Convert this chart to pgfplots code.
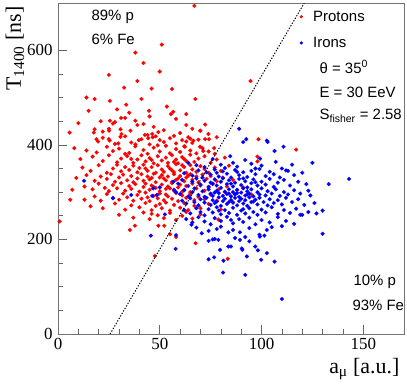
\documentclass[border=0pt]{standalone}
\usepackage{fontspec}
\setmainfont{Liberation Serif}
\newfontfamily\sans{Liberation Sans}
\usepackage{pgfplots}
\pgfplotsset{compat=1.18}
\usepackage{pgfplotstable}

% proton events (a_mu, T1400)
\pgfplotstableread{
a T
67 694
51 612
38 595
42 573
50 555
25 548
39 535
32.5 521
46 519
56 518
67.5 497
94.6 535
14 500
18 497
25.5 493
41 497
33.5 485
53.5 481
15 472
44.7 472
56.6 470
55.5 465
10 446
21 450
25.5 451
28 448
27 445
31 457
33 457
38 451
39 442
42 444
35.6 430
30.7 433
25 434
25.1 430
17.6 426
18 433
5.7 426
18.9 412
19.7 407
25 412
25.4 409
29.6 403
30.7 417
31.2 423
39.7 410
42.7 421
44 421
44.3 414
46.5 416
49.3 427
50 410
46.3 423
72.3 443
69.8 430
73.9 423
74.2 412
78 416
63 407
65 413
66.5 409
72.3 412
98.5 412
117 390
76.7 393
69.8 396
62.4 396
71.4 387
98 375
98 365
22 428
47 438
52 431
60 425
63 442
66 434
70 430
58 455
45 460
35 468
63 465
29 475
22 415
28 402
33 418
36 405
41 412
45 401
48 418
52 406
55 414
58 403
61 410
64 416
66 404
69 411
38 401
57 419
8 393
14 388
19 384
24 396
27 387
30 392
35 383
38 397
42 389
44 381
47 394
50 386
53 398
55 382
58 391
60 385
62 397
65 388
68 382
71 393
74 386
77 381
49 399
33 381
11 370
17 375
22 366
25 378
29 363
31 371
34 376
37 362
39 369
41 378
43 365
45 372
47 361
49 376
51 367
53 373
54 362
56 378
58 369
59 361
61 374
63 366
65 379
67 364
69 371
72 376
75 362
78 369
82 373
36 370
46 368
57 364
62 370
12 352
16 345
20 357
24 341
27 350
29 358
31 344
33 353
35 347
37 356
39 342
40 351
42 358
44 345
46 353
48 341
49 357
51 348
52 343
54 355
55 350
57 342
58 359
60 346
62 353
63 341
65 357
66 348
68 343
70 355
72 349
74 341
77 352
80 345
84 356
43 350
56 346
61 357
9 330
14 336
18 324
21 333
24 328
26 338
28 322
30 331
32 337
34 325
36 334
37 321
39 329
41 338
42 324
44 333
45 327
47 339
48 321
50 331
51 336
53 325
54 333
56 322
57 338
59 329
60 334
62 323
63 331
65 338
66 326
68 333
69 321
71 337
73 328
75 334
78 323
81 331
86 326
46 330
52 329
58 326
64 335
7 305
13 312
17 306
20 318
23 309
25 302
27 315
29 308
31 319
33 303
35 313
36 307
38 317
40 301
42 311
43 318
45 305
46 314
48 309
50 302
51 316
53 307
54 312
56 319
57 303
59 310
60 316
62 305
63 313
65 300
66 318
68 308
70 314
72 303
74 311
76 317
79 306
83 312
88 304
47 311
55 308
61 301
6 284
13 284
18 291
21 282
24 296
27 288
30 284
32 297
34 289
37 282
39 294
41 286
43 299
45 281
47 292
49 287
50 297
52 283
54 291
56 286
58 298
59 281
61 293
63 288
65 296
67 283
69 290
72 285
75 295
78 282
85 291
44 289
53 295
16 270
22 266
28 276
33 263
36 272
40 268
43 277
46 262
48 271
51 266
53 278
55 261
57 273
60 267
62 277
64 262
67 271
70 266
74 275
80 263
50 275
0.8 238
30 252
37 246
42 257
45 243
49 251
52 245
55 256
58 241
61 250
63 258
66 244
70 253
78.8 242
46 254
35.3 220
37.8 229
49.3 229
52.2 229
55 211
47.6 165
67.6 192
83.4 159
58 205
82 300
86 278
91 310
95 295
}\protons

% iron events (a_mu, T1400)
\pgfplotstableread{
a T
89 434
91 406
92.5 412
102.6 409
103 406
106.4 387
110.8 396
125 362
143 328
133 317
123 303
126 277
130 261
127 255
123 258
119 252
120 252
130 212
12.8 324
27 287
36 294
46.8 308
50 310
46.3 292
48.6 294
52.5 253
45.6 208
57.8 180
58 209
57 305
58 300
56.7 322
64 362
68 357
72 353
76 370
80 358
84.6 376
86 362
88 354
92 368
95 360
97 350
99.3 371
100 356
107 364
110 350
113 345
115 358
82 351
62 340
66 335
69 346
71 331
73 342
75 337
77 348
79 333
81 344
83 339
85 331
87 347
89 336
91 342
93 332
95 345
97 338
99 349
102 334
104 343
106 338
109 331
112 346
116 336
120 341
78 341
88 343
59 318
61 326
64 313
66 322
68 329
70 316
72 324
74 311
75 320
77 327
78 314
80 322
81 329
83 317
84 325
86 312
87 320
89 328
90 315
92 323
93 310
95 319
96 327
98 314
100 322
102 316
104 328
106 311
108 320
111 326
114 314
118 322
122 317
76 318
85 318
91 329
97 321
60 296
62 304
64 291
66 300
67 308
69 294
71 302
72 290
74 306
75 297
76 292
78 303
79 298
80 309
81 292
82 301
83 296
84 306
85 291
86 300
87 295
88 305
89 290
90 299
91 308
92 293
93 302
94 297
95 306
96 291
98 300
99 295
100 308
102 293
103 302
105 297
107 306
109 292
111 300
113 295
116 304
119 297
124 293
77 299
84 297
88 298
93 295
61 282
63 276
65 287
67 279
69 272
70 285
72 278
73 288
75 273
76 283
77 277
79 289
80 271
81 281
82 286
83 275
85 283
86 278
87 288
88 272
89 281
90 286
91 276
92 283
93 271
94 289
95 279
97 284
98 274
99 288
101 279
103 272
104 285
106 277
108 283
110 274
112 288
115 279
118 285
121 273
78 280
84 279
96 280
62 262
65 255
68 266
70 258
72 251
74 264
76 257
78 268
80 253
82 262
84 256
86 267
88 252
90 261
92 255
94 266
96 258
98 252
100 263
102 257
105 268
108 254
111 262
114 256
117 265
79 261
91 264
63 243
66 236
69 247
72 238
75 232
77 245
80 239
83 248
86 234
89 243
91 237
94 246
97 232
100 241
104 236
108 247
112 239
116 233
85 241
65.6 231
68 225
70.6 213
74 218
78 222
80 227
83.7 215
86 220
89.4 215
94 224
99 210
102.6 220
105 226
92 205
76 200
87 203
94 196
99.2 206
101.4 208
110 228
74 197
77 201
78.8 199
89.4 199
79.6 178
83.7 185
85 185
90.3 181
90.6 178
96.9 185
98.2 177
74 158
76.7 162
81.3 155
92.8 164
99.8 157
102.6 171
106.4 153
81.1 130
92 125
110 74
}\irons

\begin{document}
\begin{tikzpicture}
\begin{axis}[
    scale only axis,
    width=346bp, height=331bp,
    xmin=0, xmax=170, ymin=0, ymax=700,
    xtick={0,50,100,150}, ytick={0,200,400,600},
    minor x tick num=4, minor y tick num=3,
    xtick pos=bottom, ytick pos=left,
    tick align=inside,
    major tick length=9bp, minor tick length=5bp,
    axis line style={black!55, line width=0.8pt},
    tick style={black!60, line width=0.6pt},
    tick label style={font=\fontsize{17}{20}\selectfont},
    /pgf/number format/assume math mode=true,
    xticklabel style={yshift=-1bp},
    yticklabel style={xshift=-2bp},
    clip mode=individual,
    legend style={draw=none, fill=none, at={(axis description cs:0.674,0.983)},
        anchor=north west, font=\sans\fontsize{15}{18}\selectfont,
        row sep=10.5bp, inner sep=0pt},
    legend cell align=left,
    legend image code/.code={\path[draw=none, fill=none] (0,0) -- (0.7cm,0); \fill[#1] (0.35cm,0) circle (1.4bp);},
]
\addplot[only marks, mark=*, mark size=1.95bp, draw=red, fill=red, mark options={draw=red, fill=red, line width=0.2pt}]
    table[x=a, y=T] {\protons};
\addlegendentry{Protons}
\addplot[only marks, mark=*, mark size=1.95bp, draw=blue, fill=blue, mark options={draw=blue, fill=blue, line width=0.2pt}]
    table[x=a, y=T] {\irons};
\addlegendentry{Irons}
\addplot[black, dash pattern=on 1.3bp off 1.6bp, line width=1bp, forget plot] coordinates {(25.6,0) (121,700)};

\node[font=\sans\fontsize{15}{18}\selectfont, anchor=west] at (axis description cs:0.087,0.958) {89\% p};
\node[font=\sans\fontsize{15}{18}\selectfont, anchor=west] at (axis description cs:0.087,0.891) {6\% Fe};
\node[font=\sans\fontsize{15}{18}\selectfont, anchor=west] at (axis description cs:0.746,0.807) {θ = 35\textsuperscript{0}};
\node[font=\sans\fontsize{15}{18}\selectfont, anchor=west] at (axis description cs:0.746,0.731) {E = 30 EeV};
\node[font=\sans\fontsize{15}{18}\selectfont, anchor=west] at (axis description cs:0.746,0.659) {S\textsubscript{fisher} = 2.58};
\node[font=\sans\fontsize{15}{18}\selectfont, anchor=west] at (axis description cs:0.844,0.157) {10\% p};
\node[font=\sans\fontsize{15}{18}\selectfont, anchor=west] at (axis description cs:0.841,0.088) {93\% Fe};

\node[font=\fontsize{22}{26}\selectfont, anchor=base east] at (axis description cs:0.997,-0.118) {a\textsubscript{μ} [a.u.]};
\node[font=\fontsize{22}{26}\selectfont, rotate=90, anchor=base east] at (axis description cs:-0.107,1.0) {T\textsubscript{1400} [ns]};
\end{axis}
\pgfresetboundingbox
\path (-58bp,-50bp) rectangle (349bp,334bp);
\end{tikzpicture}
\end{document}
